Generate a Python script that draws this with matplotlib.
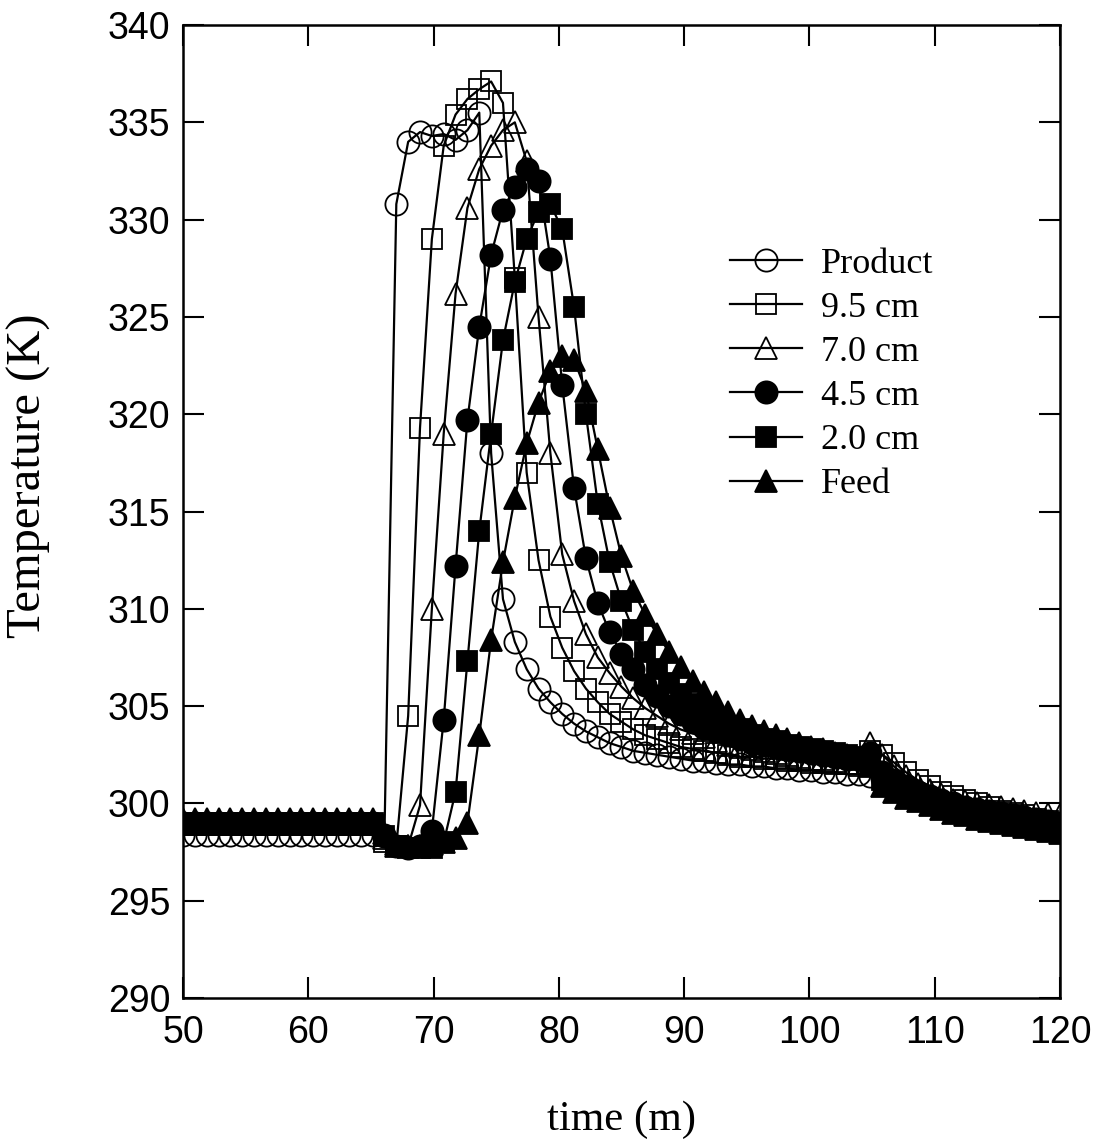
import numpy as np
import matplotlib
matplotlib.use("Agg")
import matplotlib.pyplot as plt

# sampling times (min), shared by all curves
time_min = np.linspace(50, 120, 75)

product = [
    298.4, 298.4, 298.4, 298.4, 298.4, 298.4, 298.4, 298.4, 298.4, 298.4,
    298.4, 298.4, 298.4, 298.4, 298.4, 298.4, 298.4, 298.4, 330.8, 334.0,
    334.5, 334.3, 334.4, 334.1, 334.6, 335.5, 318.0, 310.5, 308.3, 306.9,
    305.9, 305.2, 304.6, 304.1, 303.7, 303.4, 303.1, 302.9, 302.7, 302.6,
    302.5, 302.4, 302.3, 302.2, 302.2, 302.1, 302.0, 302.0, 301.9, 301.9,
    301.8, 301.8, 301.7, 301.7, 301.6, 301.6, 301.5, 301.5, 301.4, 301.3,
    301.0, 300.7, 300.4, 300.2, 300.0, 299.8, 299.6, 299.5, 299.3, 299.2,
    299.1, 299.0, 298.9, 298.8, 298.7,
]
pos_95 = [
    298.9, 298.9, 298.9, 298.9, 298.9, 298.9, 298.9, 298.9, 298.9, 298.9,
    298.9, 298.9, 298.9, 298.9, 298.9, 298.9, 298.9, 298.0, 297.8, 304.5,
    319.3, 329.0, 333.8, 335.4, 336.2, 336.7, 337.1, 336.0, 327.0, 317.0,
    312.5, 309.6, 308.0, 306.8, 305.9, 305.2, 304.6, 304.2, 303.8, 303.5,
    303.3, 303.1, 302.9, 302.8, 302.7, 302.6, 302.5, 302.4, 302.4, 302.3,
    302.3, 302.2, 302.2, 302.1, 302.1, 302.0, 302.0, 301.9, 302.7, 302.5,
    302.1, 301.6, 301.2, 300.9, 300.6, 300.4, 300.2, 300.0, 299.8, 299.6,
    299.5, 299.4, 299.2, 299.1, 299.0,
]
pos_70 = [
    299.0, 299.0, 299.0, 299.0, 299.0, 299.0, 299.0, 299.0, 299.0, 299.0,
    299.0, 299.0, 299.0, 299.0, 299.0, 299.0, 299.0, 298.2, 297.8, 297.8,
    299.9, 310.0, 319.0, 326.2, 330.6, 332.6, 333.8, 334.6, 335.0, 333.0,
    325.0, 318.0, 312.8, 310.4, 308.7, 307.5, 306.7, 306.0, 305.4, 304.9,
    304.5, 304.1, 303.8, 303.6, 303.4, 303.2, 303.0, 302.9, 302.8, 302.7,
    302.6, 302.5, 302.4, 302.3, 302.3, 302.2, 302.1, 302.1, 303.1, 302.5,
    301.9, 301.4, 301.0, 300.7, 300.5, 300.2, 300.1, 300.0, 299.9, 299.8,
    299.7, 299.6, 299.5, 299.45, 299.4,
]
pos_45 = [
    299.0, 299.0, 299.0, 299.0, 299.0, 299.0, 299.0, 299.0, 299.0, 299.0,
    299.0, 299.0, 299.0, 299.0, 299.0, 299.0, 299.0, 298.3, 297.8, 297.7,
    297.8, 298.6, 304.3, 312.2, 319.7, 324.5, 328.2, 330.5, 331.7, 332.6,
    332.0, 328.0, 321.5, 316.2, 312.6, 310.3, 308.8, 307.7, 306.9, 306.1,
    305.5, 305.0, 304.6, 304.2, 303.9, 303.7, 303.5, 303.3, 303.1, 303.0,
    302.9, 302.8, 302.7, 302.6, 302.5, 302.4, 302.3, 302.3, 302.6, 301.6,
    301.2, 300.9, 300.6, 300.4, 300.2, 300.0, 299.8, 299.7, 299.6, 299.5,
    299.4, 299.3, 299.2, 299.1, 299.0,
]
pos_20 = [
    299.0, 299.0, 299.0, 299.0, 299.0, 299.0, 299.0, 299.0, 299.0, 299.0,
    299.0, 299.0, 299.0, 299.0, 299.0, 299.0, 299.0, 298.3, 297.8, 297.7,
    297.7, 297.7, 298.0, 300.6, 307.3, 314.0, 319.0, 323.8, 326.8, 329.0,
    330.4, 330.8, 329.5, 325.5, 320.0, 315.4, 312.4, 310.4, 308.9, 307.8,
    306.9, 306.2, 305.6, 305.1, 304.7, 304.3, 304.0, 303.8, 303.5, 303.3,
    303.2, 303.0, 302.9, 302.8, 302.7, 302.6, 302.5, 302.4, 302.2, 301.2,
    300.9, 300.6, 300.4, 300.2, 300.0, 299.8, 299.6, 299.5, 299.4, 299.3,
    299.2, 299.1, 299.0, 298.9, 298.8,
]
feed = [
    299.2, 299.2, 299.2, 299.2, 299.2, 299.2, 299.2, 299.2, 299.2, 299.2,
    299.2, 299.2, 299.2, 299.2, 299.2, 299.2, 299.2, 298.5, 297.9, 297.8,
    297.8, 297.9, 298.0, 298.2, 299.0, 303.5, 308.4, 312.4, 315.7, 318.5,
    320.6, 322.2, 323.0, 322.8, 321.2, 318.2, 315.2, 312.7, 310.9, 309.7,
    308.7, 307.8, 307.0, 306.3, 305.7, 305.2, 304.7, 304.3, 304.0, 303.7,
    303.5, 303.3, 303.1, 302.9, 302.8, 302.6, 302.5, 302.3, 301.9, 300.9,
    300.6, 300.3, 300.1, 299.9, 299.7, 299.5, 299.4, 299.2, 299.1, 299.0,
    298.9, 298.8, 298.7, 298.6, 298.5,
]

labels = ["Product", "9.5 cm", "7.0 cm", "4.5 cm", "2.0 cm", "Feed"]
series = [product, pos_95, pos_70, pos_45, pos_20, feed]
markers = ["o", "s", "^", "o", "s", "^"]
filled = [False, False, False, True, True, True]

fig = plt.figure(figsize=(10.99, 11.39), dpi=100)
ax = fig.add_axes([0.1665, 0.1238, 0.798, 0.8542])

for y, lab, m, f in zip(series, labels, markers, filled):
    ms = 15 if m == "s" else 16
    ax.plot(time_min, y, color="black", lw=1.6, marker=m, ms=ms,
            mfc="black" if f else "none", mec="black", mew=1.3, label=lab)

ax.set_xlim(50, 120)
ax.set_ylim(290, 340)
ax.set_xticks(np.arange(50, 121, 10))
ax.set_yticks(np.arange(290, 341, 5))

ax.tick_params(direction="in", length=15, width=1.5, top=True, right=True,
               labelsize=27)
ax.tick_params(axis="x", pad=12)
ax.tick_params(axis="y", pad=9)
for lbl in ax.get_xticklabels() + ax.get_yticklabels():
    lbl.set_family("Liberation Sans")
for sp in ax.spines.values():
    sp.set_linewidth(1.8)

ax.set_xlabel("time (m)", family="Liberation Serif", fontsize=31, labelpad=36)
ax.set_ylabel("Temperature (K)", family="Liberation Serif", fontsize=35)
ax.yaxis.set_label_coords(-0.15, 0.537)

leg = ax.legend(loc="center left", bbox_to_anchor=(0.624, 0.641), frameon=False,
                prop={"family": "Liberation Serif", "size": 26},
                handlelength=2.0, handletextpad=0.5, labelspacing=0.3,
                borderpad=0, borderaxespad=0)

fig.savefig("out.png", dpi=100)
